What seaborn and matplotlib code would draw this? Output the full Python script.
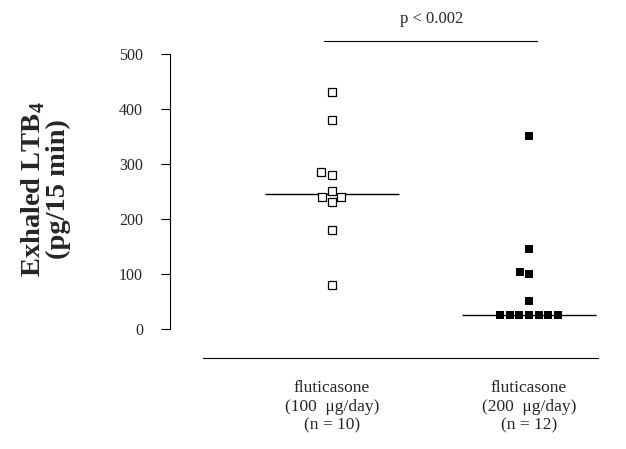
import numpy as np
import pandas as pd
import matplotlib
matplotlib.use('Agg')
import matplotlib.pyplot as plt
import seaborn as sns

# Datos (pg/15 min)
grupos = ['fluticasone\n(100  μg/day)\n(n = 10)', 'fluticasone\n(200  μg/day)\n(n = 12)']
ltb4_100 = [430, 380, 285, 280, 250, 240, 240, 230, 180, 80]
ltb4_200 = [350, 145, 104, 100, 50, 25, 25, 25, 25, 25, 25, 25]
y_ticks = [0, 100, 200, 300, 400, 500]
p_texto = 'p < 0.002'

sns.set_style('ticks')
plt.rcParams['font.family'] = ['Liberation Serif', 'DejaVu Serif']
plt.rcParams['mathtext.fontset'] = 'custom'
plt.rcParams['mathtext.rm'] = 'Liberation Serif'
plt.rcParams['mathtext.bf'] = 'Liberation Serif:bold'

df = pd.DataFrame({
    'grupo': [grupos[0]] * len(ltb4_100) + [grupos[1]] * len(ltb4_200),
    'ltb4': ltb4_100 + ltb4_200,
})

fig = plt.figure(figsize=(6.26, 4.49), dpi=100)
ax = fig.add_axes([0.2716, 0.2027, 0.6837, 0.7506])

# Puntos individuales (el swarm se calcula con un tamaño mayor para dejar huecos)
sns.swarmplot(data=df[df['grupo'] == grupos[0]], x='grupo', y='ltb4', order=grupos,
              marker='s', size=6.6, color='white', edgecolor='black', linewidth=0.9,
              ax=ax, zorder=3)
sns.swarmplot(data=df[df['grupo'] == grupos[1]], x='grupo', y='ltb4', order=grupos,
              marker='s', size=6.6, color='black', linewidth=0, ax=ax, zorder=3)

# Medianas
for i, vals in enumerate([ltb4_100, ltb4_200]):
    ax.hlines(np.median(vals), i - 0.34, i + 0.34, color='black', lw=1, zorder=1)

# Barra de significancia
ax.plot([-0.04, 1.04], [523, 523], color='black', lw=0.8, clip_on=False)
ax.text(0.508, 563, p_texto, ha='center', va='center', fontsize=12)

ax.set_xlim(-0.82, 1.35)
ax.set_ylim(-52.7, 560)
ax.set_yticks(y_ticks)
sns.despine(ax=ax)
ax.spines['left'].set_bounds(0, 500)
ax.spines['bottom'].set_bounds(-0.652, 1.35)
for s in ['left', 'bottom']:
    ax.spines[s].set_linewidth(0.8)
    ax.spines[s].set_color('black')

ax.tick_params(axis='y', length=6.5, width=0.8, pad=13, labelsize=11.5, color='black')
ax.tick_params(axis='x', length=0, pad=16, labelsize=12.5)

ax.set_xlabel('')
ax.set_ylabel('Exhaled LTB$_\\mathbf{4}$\n(pg/15 min)', fontsize=20.5, fontweight='bold',
              linespacing=0.95)
ax.yaxis.set_label_coords(-0.232, 0.5)

# fijar posiciones del swarm y reducir el marcador
fig.canvas.draw()
for coll in ax.collections:
    if 'draw' in coll.__dict__:
        del coll.draw
        coll.set_sizes([5.2 ** 2])

plt.savefig('out.png', dpi=100)
